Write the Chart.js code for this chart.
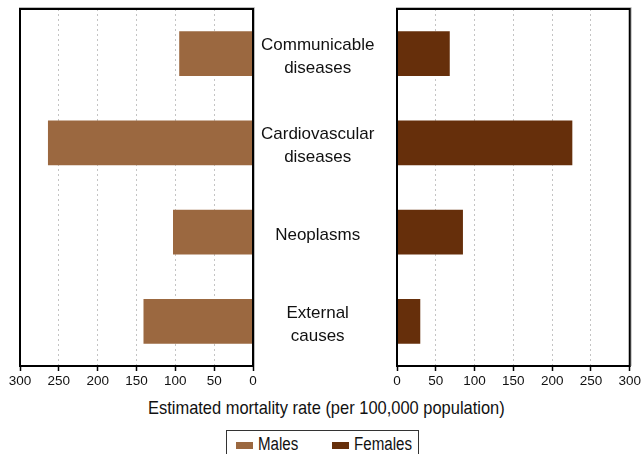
<!DOCTYPE html>
<html>
<head>
<meta charset="utf-8">
<script src="https://cdn.jsdelivr.net/npm/chart.js@4.4.0/dist/chart.umd.min.js"></script>
<style>
  html, body { margin: 0; padding: 0; background: #fff; }
  body { width: 643px; height: 454px; position: relative; overflow: hidden;
         font-family: "Liberation Sans", Arial, sans-serif; color: #111; }
  #leftBox { position: absolute; left: 0; top: 0; width: 397px; height: 395px; }
  #rightBox { position: absolute; left: 380px; top: 0; width: 263px; height: 395px; }
  #axisTitle { position: absolute; left: 148px; top: 397px; font-size: 19px; white-space: nowrap;
               transform: scaleX(0.866); transform-origin: left top; }
  #legend { position: absolute; left: 226px; top: 430px; width: 191px; height: 30px;
            border: 1.5px solid #333; font-size: 18px; }
  .sw { position: absolute; top: 11px; width: 17px; height: 7px; }
  .lt { position: absolute; top: 3px; white-space: nowrap; transform: scaleX(0.84); transform-origin: left top; }
</style>
</head>
<body>
<div id="leftBox"><canvas id="leftChart"></canvas></div>
<div id="rightBox"><canvas id="rightChart"></canvas></div>
<div id="axisTitle">Estimated mortality rate (per 100,000 population)</div>
<div id="legend">
  <div class="sw" style="left:9px;background:#9b6840"></div><div class="lt" style="left:31px">Males</div>
  <div class="sw" style="left:105px;background:#662f0b"></div><div class="lt" style="left:127px">Females</div>
</div>
<script>
const categories = [
  ['Communicable', 'diseases'],
  ['Cardiovascular', 'diseases'],
  ['Neoplasms'],
  ['External', 'causes']
];
const males = [95, 264, 103, 141];
const females = [68, 226, 85, 30];
const tickValues = [0, 50, 100, 150, 200, 250, 300];

const maleColor = '#9b6840';
const femaleColor = '#662f0b';
const fontFamily = '"Liberation Sans", Arial, sans-serif';

// frame around each panel: soft grey shadow plus black box
const framePlugin = {
  id: 'frame',
  afterDraw(chart) {
    const { ctx, chartArea: a } = chart;
    ctx.save();
    ctx.strokeStyle = '#bdbdbd';
    ctx.lineWidth = 1;
    ctx.beginPath();
    ctx.moveTo(a.left - 1, a.top - 1.5);
    ctx.lineTo(a.right + 1.5, a.top - 1.5);
    ctx.lineTo(a.right + 1.5, a.bottom);
    ctx.stroke();
    ctx.strokeStyle = '#000';
    ctx.lineWidth = 2;
    ctx.strokeRect(a.left, a.top, a.right - a.left, a.bottom - a.top);
    ctx.restore();
  }
};

function xScale(reverse) {
  return {
    type: 'linear',
    min: 0,
    max: 300,
    reverse: reverse,
    afterBuildTicks(scale) { scale.ticks = tickValues.map(v => ({ value: v })); },
    afterFit(scale) { scale.height = 29; },
    grid: {
      color: (c) => (c.tick && (c.tick.value === 0 || c.tick.value === 300)) ? 'rgba(0,0,0,0)' : '#c4c4c4',
      lineWidth: 1,
      tickColor: '#000',
      tickLength: 5,
      tickWidth: 1.5,
      tickBorderDash: []
    },
    border: { display: false, dash: [2, 3] },
    ticks: {
      color: '#111',
      padding: 2,
      maxRotation: 0,
      autoSkip: false,
      font: { family: fontFamily, size: 13.5 }
    }
  };
}

new Chart(document.getElementById('leftChart'), {
  type: 'bar',
  data: {
    labels: categories,
    datasets: [{ label: 'Males', data: males, backgroundColor: maleColor,
                 categoryPercentage: 1, barPercentage: 0.5 }]
  },
  options: {
    indexAxis: 'y',
    responsive: true,
    maintainAspectRatio: false,
    animation: false,
    layout: { padding: { left: 20, top: 9, right: 0, bottom: 0 } },
    plugins: { legend: { display: false }, tooltip: { enabled: false } },
    scales: {
      x: xScale(true),
      y: {
        position: 'right',
        afterFit(scale) {
          scale.width = 144;
          scale.paddingTop = 0;
          scale.paddingBottom = 0;
        },
        grid: { display: false },
        border: { display: false },
        ticks: {
          crossAlign: 'center',
          padding: 0,
          labelOffset: 3,
          color: '#111',
          font: { family: fontFamily, size: 17, lineHeight: 1.35 }
        }
      }
    }
  },
  plugins: [framePlugin]
});

new Chart(document.getElementById('rightChart'), {
  type: 'bar',
  data: {
    labels: categories,
    datasets: [{ label: 'Females', data: females, backgroundColor: femaleColor,
                 categoryPercentage: 1, barPercentage: 0.5 }]
  },
  options: {
    indexAxis: 'y',
    responsive: true,
    maintainAspectRatio: false,
    animation: false,
    layout: { padding: { left: 17, top: 9, right: 13, bottom: 0 } },
    plugins: { legend: { display: false }, tooltip: { enabled: false } },
    scales: {
      x: xScale(false),
      y: {
        position: 'left',
        afterFit(scale) { scale.width = 0; },
        grid: { display: false },
        border: { display: false },
        ticks: { display: false }
      }
    }
  },
  plugins: [framePlugin]
});
</script>
</body>
</html>
